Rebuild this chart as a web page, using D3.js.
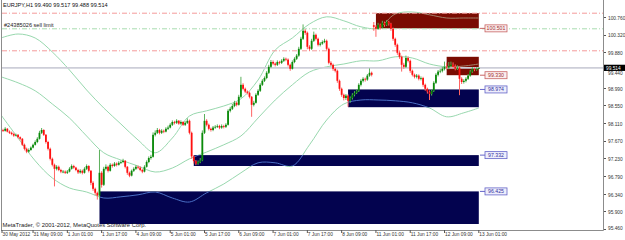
<!DOCTYPE html>
<html>
<head>
<meta charset="utf-8">
<script src="https://cdn.jsdelivr.net/npm/d3@7"></script>
<style>
  body { margin: 0; background: #fff; }
  svg { display: block; }
  text { font-family: "Liberation Sans", Arial, sans-serif; }
</style>
</head>
<body>
<div id="chart"></div>
<script>
// EURJPY H1 bars, 30 May 18:00 .. 13 Jun 01:00 (open = previous close)
const closes = [
  97.96,97.94,97.99,97.92,97.89,97.86,97.82,97.84,97.78,97.74,
  97.59,97.49,97.42,97.46,97.52,97.59,97.66,97.74,97.89,97.96,
  97.84,97.66,97.49,97.24,97.09,96.99,97.04,96.96,96.92,96.92,
  96.89,96.92,96.99,97.06,97.02,96.96,96.90,96.94,96.89,96.99,
  97.06,96.94,96.64,96.49,96.39,96.32,96.89,96.59,96.99,97.04,
  96.94,97.09,97.06,97.12,97.09,97.14,97.16,97.19,97.04,96.89,
  96.82,96.94,96.99,97.04,97.02,96.96,96.92,97.04,97.16,97.26,
  97.29,97.84,97.89,97.96,97.89,97.94,97.92,97.99,98.02,98.09,
  98.16,98.14,98.19,98.12,98.16,98.09,98.14,98.19,97.89,97.30,
  97.18,97.12,97.16,97.20,97.89,98.19,98.09,97.99,97.96,98.02,
  98.04,98.06,98.02,98.06,98.04,98.09,98.44,98.49,98.56,98.64,
  98.59,98.79,99.09,98.99,98.92,98.89,98.79,98.59,98.64,98.84,
  98.94,99.09,99.19,99.26,99.39,99.54,99.66,99.62,99.59,99.66,
  99.64,99.69,99.74,99.72,99.59,99.49,99.66,99.74,99.82,99.99,
  100.24,100.44,100.39,100.04,99.99,100.19,100.34,100.24,100.09,100.12,
  100.16,100.19,99.99,99.64,99.59,99.49,99.44,99.19,98.99,98.84,
  98.76,98.82,98.69,98.76,98.84,98.89,98.94,99.09,99.19,99.24,
  99.22,99.32,99.39,99.34,100.54,100.49,100.59,100.52,100.64,100.59,
  100.66,100.62,100.49,100.24,100.09,99.89,99.79,99.59,99.54,99.76,
  99.69,99.44,99.34,99.29,99.32,99.24,99.26,99.09,98.99,98.92,
  98.86,98.94,99.14,99.34,99.42,99.44,99.49,99.54,99.52,99.56,
  99.59,99.54,99.49,99.52,99.24,99.16,99.19,99.24,99.32,99.42,
  99.49,99.47,99.490,99.514
];
const highs = [
  98.00,97.99,98.03,98.01,97.95,97.92,97.89,97.87,97.86,97.80,
  97.76,97.62,97.52,97.50,97.55,97.62,97.70,97.78,97.94,98.01,
  97.98,97.86,97.69,97.52,97.27,97.12,97.08,97.07,96.99,96.96,
  96.95,96.96,97.03,97.10,97.09,97.04,96.99,96.98,96.97,97.03,
  97.10,97.08,96.96,96.68,96.52,96.42,97.46,96.93,97.04,97.10,
  97.07,97.13,97.12,97.16,97.15,97.18,97.20,97.24,97.21,97.06,
  96.92,96.97,97.03,97.08,97.07,97.05,96.99,97.08,97.20,97.30,
  97.34,97.90,97.95,98.01,97.99,97.98,97.97,98.03,98.07,98.13,
  98.20,98.19,98.23,98.21,98.20,98.18,98.18,98.25,98.22,97.92,
  97.33,97.21,97.20,97.26,97.95,98.36,98.23,98.12,98.02,98.06,
  98.08,98.10,98.09,98.10,98.09,98.13,98.48,98.54,98.61,98.69,
  98.67,98.84,99.29,99.13,99.02,98.95,98.92,98.81,98.69,98.88,
  98.98,99.13,99.23,99.30,99.43,99.59,99.71,99.70,99.65,99.70,
  99.69,99.73,99.78,99.77,99.75,99.62,99.70,99.78,99.86,100.04,
  100.29,100.60,100.48,100.42,100.08,100.24,100.42,100.37,100.27,100.16,
  100.20,100.24,100.22,100.02,99.68,99.62,99.52,99.47,99.22,99.02,
  98.87,98.86,98.85,98.80,98.88,98.93,98.98,99.13,99.23,99.28,
  99.27,99.36,99.50,99.42,100.66,100.58,100.64,100.62,100.69,100.67,
  100.71,100.69,100.64,100.52,100.27,100.12,99.93,99.82,99.64,99.82,
  99.80,99.72,99.47,99.37,99.36,99.35,99.30,99.29,99.12,99.02,
  98.95,98.98,99.18,99.38,99.46,99.49,99.54,99.67,99.64,99.66,
  99.67,99.65,99.60,99.58,99.55,99.28,99.23,99.28,99.36,99.46,
  99.53,99.52,99.53,99.517
];
const lows = [
  97.90,97.91,97.92,97.90,97.86,97.83,97.79,97.80,97.75,97.70,
  97.56,97.45,97.38,97.39,97.44,97.50,97.57,97.63,97.72,97.86,
  97.81,97.62,97.45,97.20,97.05,96.55,96.95,96.93,96.88,96.88,
  96.86,96.86,96.90,96.97,96.99,96.93,96.86,96.87,96.85,96.87,
  96.96,96.90,96.58,96.44,96.33,96.22,96.24,96.52,96.56,96.95,
  96.90,96.92,97.02,97.04,97.05,97.07,97.11,97.13,97.00,96.84,
  96.78,96.80,96.91,96.96,96.98,96.93,96.88,96.90,97.02,97.13,
  97.22,97.27,97.80,97.86,97.85,97.86,97.88,97.90,97.96,98.00,
  98.06,98.10,98.11,98.09,98.09,98.06,98.06,98.11,97.85,97.24,
  97.12,97.08,97.09,97.13,97.18,97.86,98.05,97.95,97.92,97.93,
  97.99,98.01,97.98,97.99,98.00,98.01,98.07,98.40,98.46,98.53,
  98.55,98.57,98.76,98.95,98.88,98.85,98.75,98.29,98.55,98.62,
  98.81,98.91,99.06,99.16,99.23,99.36,99.51,99.58,99.55,99.56,
  99.60,99.61,99.66,99.68,99.55,99.44,99.47,99.63,99.71,99.79,
  99.96,100.21,100.34,99.98,99.94,99.96,100.16,100.20,100.05,100.05,
  100.09,100.13,99.95,99.60,99.55,99.44,99.40,99.14,98.94,98.79,
  98.70,98.71,98.54,98.64,98.72,98.80,98.86,98.91,99.05,99.15,
  99.17,99.19,99.29,99.30,100.44,100.29,100.46,100.47,100.50,100.54,
  100.56,100.57,100.44,100.19,100.04,99.84,99.74,99.42,99.49,99.51,
  99.65,99.39,99.30,99.25,99.25,99.20,99.20,99.04,98.94,98.87,
  98.71,98.82,98.91,99.11,99.30,99.38,99.40,99.45,99.47,99.48,
  99.52,99.50,99.45,99.46,98.83,99.11,99.12,99.15,99.21,99.29,
  99.39,99.43,99.44,99.488
];
const firstOpen = 97.92;
const gapBar = 174;      // Monday 11 Jun 00:00 opens with a gap
const gapOpen = 100.58;

// Bollinger-style envelope, read every 8 bars
const bandBars = [0,8,16,24,32,40,48,56,64,72,80,88,96,104,112,120,128,136,144,152,160,168,176,184,192,200,208,216,223];
const upperBand = [100.26,100.36,100.26,99.91,99.46,98.96,98.51,98.11,97.71,97.39,97.76,98.31,98.44,98.56,98.74,99.21,99.96,100.26,100.61,100.79,100.69,100.54,100.51,100.86,100.91,100.84,100.76,100.76,100.76];
const middleBand = [99.29,99.14,98.94,98.61,98.26,97.81,97.39,97.21,97.06,96.91,97.01,97.24,97.41,97.59,97.81,98.26,98.71,99.09,99.41,99.54,99.61,99.69,99.69,99.79,99.76,99.61,99.54,99.56,99.61];
const lowerBand = [98.34,97.76,97.19,96.76,96.51,96.41,96.26,96.29,96.34,96.41,96.26,96.16,96.39,96.61,96.89,97.14,97.14,97.06,97.59,98.21,98.61,98.71,98.71,98.69,98.64,98.51,98.29,98.39,98.51];

// rectangles (start bar, end bar, top price, bottom price)
const zoneFrom = [46, 90, 162, 175, 208];
const zoneTo = [223, 223, 223, 223, 223];
const zoneTop = [96.425, 97.332, 98.974, 100.88, 99.79];
const zoneBottom = [95.61, 97.06, 98.53, 100.501, 99.330];
const zoneKind = ["buy", "buy", "buy", "sell", "sell"];

// horizontal levels
const redLevels = [100.88, 99.94];
const sellLimit = 100.49;
const bid = 99.514;

// right price labels
const priceLabels = [100.501, 99.330, 98.974, 97.332, 96.425];
const priceLabelKind = ["sell", "sell", "buy", "buy", "buy"];

const priceTicks = [100.760, 100.320, 99.880, 99.440, 98.990, 98.550, 98.110, 97.670, 97.230, 96.790, 96.340, 95.900, 95.460];
const timeTickBars = [0, 15, 31, 47, 63, 79, 95, 111, 127, 143, 159, 175, 191, 207, 223];
const timeTickLabels = ["30 May 2012", "31 May 09:00", "1 Jun 01:00", "1 Jun 17:00", "4 Jun 09:00", "5 Jun 01:00",
  "5 Jun 17:00", "6 Jun 09:00", "7 Jun 01:00", "7 Jun 17:00", "8 Jun 09:00", "11 Jun 01:00",
  "11 Jun 17:00", "12 Jun 09:00", "13 Jun 01:00"];

const opens = closes.map((c, i) => i === 0 ? firstOpen : (i === gapBar ? gapOpen : closes[i - 1]));

const width = 625, height = 240;
const plotLeft = 2, plotRight = 603, plotBottom = 230;

const svg = d3.select("#chart").append("svg")
  .attr("width", width)
  .attr("height", height);

const x = d3.scaleLinear().domain([0, 223]).range([0.9, 478.8]);
const y = d3.scaleLinear().domain([95.46, 100.76]).range([230, 18]);

const defs = svg.append("defs");
defs.append("clipPath").attr("id", "plot")
  .append("rect").attr("x", plotLeft).attr("y", 0)
  .attr("width", plotRight - plotLeft).attr("height", plotBottom);

const zones = zoneFrom.map((f, i) => ({ from: f, to: zoneTo[i], top: zoneTop[i], bottom: zoneBottom[i], kind: zoneKind[i] }));

["buy", "sell"].forEach(function(kind) {
  defs.append("clipPath").attr("id", "clip-" + kind)
    .selectAll("rect")
    .data(zones.filter(z => z.kind === kind))
    .enter().append("rect")
    .attr("x", d => x(d.from))
    .attr("y", d => y(d.top))
    .attr("width", d => x(d.to) - x(d.from))
    .attr("height", d => y(d.bottom) - y(d.top));
});

const plot = svg.append("g").attr("clip-path", "url(#plot)");

const bandLine = d3.line()
  .x(d => x(d[0]))
  .y(d => y(d[1]))
  .curve(d3.curveCatmullRom.alpha(0.5));

const bands = [upperBand, middleBand, lowerBand].map(b => bandBars.map((bar, i) => [bar, b[i]]));

function drawBands(g, color) {
  g.selectAll("path.band")
    .data(bands)
    .enter().append("path")
    .attr("class", "band")
    .attr("d", bandLine)
    .attr("fill", "none")
    .attr("stroke", color)
    .attr("stroke-width", 1);
}

drawBands(plot.append("g"), "#98d8ae");

// zones
plot.append("g").selectAll("rect")
  .data(zones)
  .enter().append("rect")
  .attr("x", d => x(d.from))
  .attr("y", d => y(d.top))
  .attr("width", d => x(d.to) - x(d.from))
  .attr("height", d => y(d.bottom) - y(d.top))
  .attr("fill", d => d.kind === "buy" ? "#03034f" : "#7a0c02");

// bands showing through the zones
drawBands(plot.append("g").attr("clip-path", "url(#clip-buy)"), "#4b6fc4");
drawBands(plot.append("g").attr("clip-path", "url(#clip-sell)"), "#a3806a");

// horizontal levels
plot.selectAll("line.red")
  .data(redLevels)
  .enter().append("line")
  .attr("x1", plotLeft).attr("x2", plotRight)
  .attr("y1", d => y(d)).attr("y2", d => y(d))
  .attr("stroke", "#f49a9a")
  .attr("stroke-width", 1)
  .attr("stroke-dasharray", "5,2,1,2");

plot.append("line")
  .attr("x1", plotLeft).attr("x2", plotRight)
  .attr("y1", y(sellLimit)).attr("y2", y(sellLimit))
  .attr("stroke", "#a8dcb0")
  .attr("stroke-width", 1)
  .attr("stroke-dasharray", "5,2,1,2");

plot.append("line")
  .attr("x1", plotLeft).attr("x2", plotRight)
  .attr("y1", y(bid)).attr("y2", y(bid))
  .attr("stroke", "#cdced8")
  .attr("stroke-width", 1.6);

// candles
const candles = plot.append("g").selectAll("g")
  .data(closes.map((c, i) => ({ i: i, o: opens[i], h: highs[i], l: lows[i], c: c })))
  .enter().append("g");

candles.append("line")
  .attr("x1", d => x(d.i)).attr("x2", d => x(d.i))
  .attr("y1", d => y(d.h)).attr("y2", d => y(d.l))
  .attr("stroke", d => d.c >= d.o ? "#5cb05c" : "#ff6464")
  .attr("stroke-width", 1);

candles.append("rect")
  .attr("x", d => x(d.i) - 0.9)
  .attr("y", d => y(Math.max(d.o, d.c)))
  .attr("width", 1.8)
  .attr("height", d => Math.max(0.8, Math.abs(y(d.o) - y(d.c))))
  .attr("fill", d => d.c >= d.o ? "#0a8a0a" : "#ff1010");

// right price labels
const pl = svg.append("g").selectAll("g")
  .data(priceLabels.map((p, i) => ({ p: p, kind: priceLabelKind[i] })))
  .enter().append("g")
  .attr("transform", d => "translate(480," + y(d.p) + ")");

pl.append("line")
  .attr("x1", 0).attr("x2", 5).attr("y1", 0).attr("y2", 0)
  .attr("stroke", d => d.kind === "sell" ? "#c86464" : "#6464c8");

pl.append("rect")
  .attr("x", 5).attr("y", -3.5)
  .attr("width", 22).attr("height", 7)
  .attr("fill", d => d.kind === "sell" ? "#fbeeee" : "#eeeefb")
  .attr("stroke", d => d.kind === "sell" ? "#c86464" : "#6464c8")
  .attr("stroke-width", 0.8);

pl.append("text")
  .attr("x", 16).attr("y", 1.8)
  .attr("text-anchor", "middle")
  .attr("font-size", 5.2)
  .attr("fill", d => d.kind === "sell" ? "#a03030" : "#3030a0")
  .text(d => d.p.toFixed(3));

// frame
svg.append("line").attr("x1", 1.5).attr("x2", 1.5).attr("y1", 0).attr("y2", plotBottom)
  .attr("stroke", "#8c8c8c");
svg.append("line").attr("x1", plotRight + 0.5).attr("x2", plotRight + 0.5).attr("y1", 0).attr("y2", plotBottom + 0.5)
  .attr("stroke", "#8c8c8c");
svg.append("line").attr("x1", 1).attr("x2", plotRight + 0.5).attr("y1", plotBottom + 0.5).attr("y2", plotBottom + 0.5)
  .attr("stroke", "#8c8c8c");

// price axis; the label nearest the bid is pushed below the bid box
const bidBoxTop = y(bid) - 3.1, bidBoxBottom = y(bid) + 3.1;
function tickLabelY(p) {
  let ty = Math.min(y(p), 228.5);
  if (ty + 2 > bidBoxTop && ty - 2 < bidBoxBottom) ty = bidBoxBottom + 2.1;
  return ty + 1.7;
}
const yAxis = svg.append("g");
yAxis.selectAll("line")
  .data(priceTicks)
  .enter().append("line")
  .attr("x1", plotRight + 1).attr("x2", plotRight + 3)
  .attr("y1", d => Math.round(y(d)) - 0.5).attr("y2", d => Math.round(y(d)) - 0.5)
  .attr("stroke", "#555");
yAxis.selectAll("text")
  .data(priceTicks)
  .enter().append("text")
  .attr("x", plotRight + 5)
  .attr("y", tickLabelY)
  .attr("font-size", 4.8)
  .attr("fill", "#333")
  .text(d => d.toFixed(3));

// bid label on the axis
svg.append("rect")
  .attr("x", plotRight + 1).attr("y", bidBoxTop)
  .attr("width", 21).attr("height", bidBoxBottom - bidBoxTop)
  .attr("fill", "#000");
svg.append("text")
  .attr("x", plotRight + 3).attr("y", y(bid) + 1.8)
  .attr("font-size", 4.8)
  .attr("fill", "#fff")
  .text(bid.toFixed(3));

// time axis
const xAxis = svg.append("g");
xAxis.selectAll("line")
  .data(timeTickBars)
  .enter().append("line")
  .attr("x1", d => Math.max(2, x(d))).attr("x2", d => Math.max(2, x(d)))
  .attr("y1", plotBottom).attr("y2", plotBottom + 3)
  .attr("stroke", "#555");
xAxis.selectAll("text")
  .data(timeTickBars)
  .enter().append("text")
  .attr("x", d => Math.max(2, x(d)) + 0.5)
  .attr("y", 236)
  .attr("font-size", 4.8)
  .attr("fill", "#333")
  .text((d, i) => timeTickLabels[i]);

// captions
const last = closes.length - 1;
svg.append("text")
  .attr("x", 3).attr("y", 6.5)
  .attr("font-size", 5.6)
  .attr("fill", "#111")
  .text("EURJPY,H1  " + [opens[last], highs[last], lows[last], closes[last]].map(v => v.toFixed(3)).join(" "));

svg.append("text")
  .attr("x", 4).attr("y", 27)
  .attr("font-size", 5.6)
  .attr("fill", "#222")
  .text("#24385026 sell limit");

svg.append("text")
  .attr("x", 2.5).attr("y", 227)
  .attr("font-size", 5.9)
  .attr("fill", "#222")
  .text("MetaTrader, \u00a9 2001-2012, MetaQuotes Software Corp.");
</script>
</body>
</html>
